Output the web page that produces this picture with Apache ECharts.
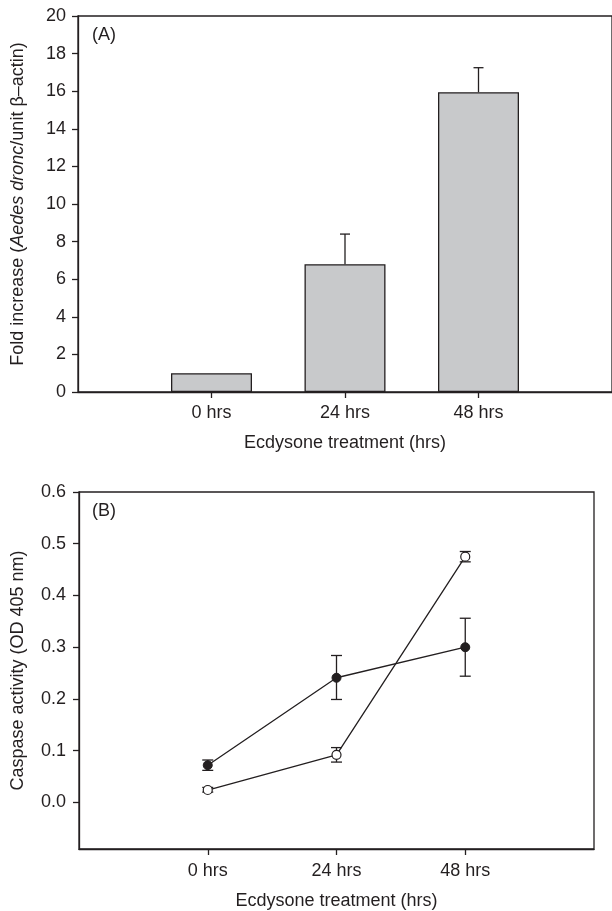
<!DOCTYPE html>
<html>
<head>
<meta charset="utf-8">
<script src="https://cdn.jsdelivr.net/npm/echarts@6/dist/echarts.min.js"></script>
<style>
html,body{margin:0;padding:0;background:#fff;}
#chart{width:612px;height:911px;}
</style>
</head>
<body>
<div id="chart"></div>
<script>
// ---- data ----
const categories = ['0 hrs', '24 hrs', '48 hrs'];
const categoryPos = [0, 1, 2];
const foldIncrease = [1.0, 6.8, 15.95];
const foldErrHigh = [null, 8.4, 17.25];
const foldTicks = [0, 2, 4, 6, 8, 10, 12, 14, 16, 18, 20];

const caspaseFilled = [0.072, 0.241, 0.300];
const caspaseFilledLow = [0.062, 0.199, 0.244];
const caspaseFilledHigh = [0.082, 0.284, 0.356];
const caspaseOpen = [0.024, 0.092, 0.475];
const caspaseOpenLow = [0.020, 0.078, 0.465];
const caspaseOpenHigh = [0.029, 0.106, 0.485];
const caspaseTicks = [0.0, 0.1, 0.2, 0.3, 0.4, 0.5, 0.6];

// ---- styling ----
const INK = '#231f20';
const FONT = 'Liberation Sans, Arial, Helvetica, sans-serif';
const FS = 18;

const chart = echarts.init(document.getElementById('chart'), null, {renderer: 'canvas'});

function errRender(capTop, capBottom, half) {
  return function (params, api) {
    const x = api.value(0), lo = api.value(1), hi = api.value(2);
    const p1 = api.coord([x, lo]);
    const p2 = api.coord([x, hi]);
    const st = {stroke: INK, lineWidth: 1.3};
    const ch = [{type: 'line', shape: {x1: p1[0], y1: p1[1], x2: p2[0], y2: p2[1]}, style: st}];
    if (capTop) ch.push({type: 'line', shape: {x1: p2[0] - half, y1: p2[1], x2: p2[0] + half, y2: p2[1]}, style: st});
    if (capBottom) ch.push({type: 'line', shape: {x1: p1[0] - half, y1: p1[1], x2: p1[0] + half, y2: p1[1]}, style: st});
    return {type: 'group', children: ch};
  };
}

const axisLine = {show: true, onZero: false, lineStyle: {color: INK, width: 1.3}};
const axisTick = {show: true, inside: false, length: 6, lineStyle: {color: INK, width: 1.3}};
const labelStyle = {color: INK, fontFamily: FONT, fontSize: FS};

const option = {
  backgroundColor: '#fff',
  animation: false,
  textStyle: {fontFamily: FONT},
  graphic: [
    {type: 'text', left: 92, top: 26, style: {text: '(A)', font: FS + 'px ' + FONT, fill: INK}},
    {type: 'text', left: 92, top: 502, style: {text: '(B)', font: FS + 'px ' + FONT, fill: INK}}
  ],
  grid: [
    {left: 78, right: -4, top: 16, height: 376, show: true, borderColor: INK, borderWidth: 1.3, backgroundColor: 'transparent'},
    {left: 79, right: 18, top: 492, height: 358, show: true, borderColor: INK, borderWidth: 1.3, backgroundColor: 'transparent'}
  ],
  xAxis: [
    {
      gridIndex: 0, type: 'value', min: -1, max: 3,
      name: 'Ecdysone treatment (hrs)', nameLocation: 'middle', nameGap: 42,
      nameTextStyle: labelStyle,
      axisLine: axisLine,
      axisTick: Object.assign({}, axisTick, {customValues: categoryPos}),
      axisLabel: Object.assign({}, labelStyle, {margin: 12, customValues: categoryPos, formatter: v => categories[Math.round(v)]}),
      splitLine: {show: false}
    },
    {
      gridIndex: 1, type: 'value', min: -1, max: 3,
      name: 'Ecdysone treatment (hrs)', nameLocation: 'middle', nameGap: 43,
      nameTextStyle: labelStyle,
      axisLine: axisLine,
      axisTick: Object.assign({}, axisTick, {customValues: categoryPos}),
      axisLabel: Object.assign({}, labelStyle, {margin: 13, customValues: categoryPos, formatter: v => categories[Math.round(v)]}),
      splitLine: {show: false}
    }
  ],
  yAxis: [
    {
      gridIndex: 0, type: 'value', min: 0, max: 20,
      name: '{a|Fold increase (}{i|Aedes dronc}{a|/unit β–actin)}',
      nameLocation: 'middle', nameGap: 51,
      nameTextStyle: {rich: {
        a: {fontFamily: FONT, fontSize: FS, color: INK},
        i: {fontFamily: FONT, fontSize: FS, color: INK, fontStyle: 'italic'}
      }},
      axisLine: axisLine,
      axisTick: Object.assign({}, axisTick, {customValues: foldTicks}),
      axisLabel: Object.assign({}, labelStyle, {margin: 12, customValues: foldTicks}),
      splitLine: {show: false}
    },
    {
      gridIndex: 1, type: 'value', min: -0.09, max: 0.6,
      name: 'Caspase activity (OD 405 nm)',
      nameLocation: 'middle', nameGap: 52,
      nameTextStyle: labelStyle,
      axisLine: axisLine,
      axisTick: Object.assign({}, axisTick, {customValues: caspaseTicks}),
      axisLabel: Object.assign({}, labelStyle, {margin: 13, customValues: caspaseTicks, formatter: v => v.toFixed(1)}),
      splitLine: {show: false}
    }
  ],
  series: [
    {
      type: 'bar', xAxisIndex: 0, yAxisIndex: 0, barWidth: 81,
      data: categoryPos.map((x, i) => [x, foldIncrease[i]]),
      itemStyle: {color: '#c8c9cb', borderColor: INK, borderWidth: 1.3},
      z: 2
    },
    {
      type: 'custom', xAxisIndex: 0, yAxisIndex: 0,
      renderItem: errRender(true, false, 5),
      data: categoryPos.map((x, i) => [x, foldIncrease[i], foldErrHigh[i]]).filter(d => d[2] != null),
      z: 3
    },
    {
      type: 'custom', xAxisIndex: 1, yAxisIndex: 1,
      renderItem: errRender(true, true, 5.5),
      data: categoryPos.map((x, i) => [x, caspaseFilledLow[i], caspaseFilledHigh[i]])
        .concat(categoryPos.map((x, i) => [x, caspaseOpenLow[i], caspaseOpenHigh[i]])),
      z: 3
    },
    {
      type: 'line', xAxisIndex: 1, yAxisIndex: 1,
      data: categoryPos.map((x, i) => [x, caspaseFilled[i]]),
      symbol: 'circle', symbolSize: 9,
      lineStyle: {color: INK, width: 1.3},
      itemStyle: {color: INK, borderColor: INK, borderWidth: 1},
      z: 4
    },
    {
      type: 'line', xAxisIndex: 1, yAxisIndex: 1,
      data: categoryPos.map((x, i) => [x, caspaseOpen[i]]),
      symbol: 'circle', symbolSize: 9,
      lineStyle: {color: INK, width: 1.3},
      itemStyle: {color: '#fff', borderColor: INK, borderWidth: 1.2},
      z: 4
    }
  ]
};
chart.setOption(option);
</script>
</body>
</html>
